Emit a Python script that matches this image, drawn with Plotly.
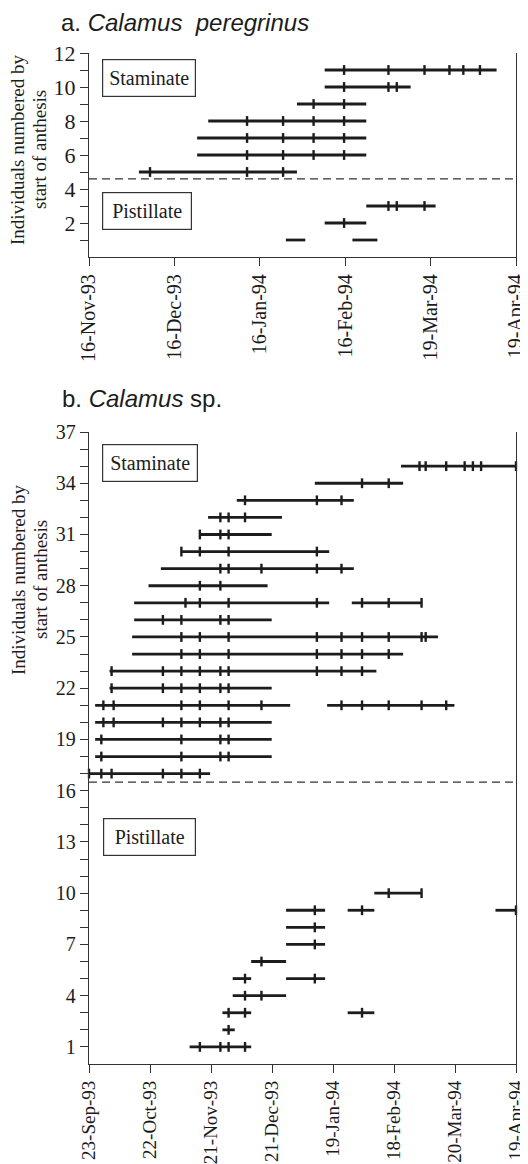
import plotly.graph_objects as go
import pandas as pd

# ---------------- Panel a: Calamus peregrinus ----------------
A_START, A_END = "1993-11-16", "1994-04-19"
A_TICK_LABELS = ["16-Nov-93", "16-Dec-93", "16-Jan-94", "16-Feb-94", "19-Mar-94", "19-Apr-94"]
A_ROWS = [11, 10, 9, 8, 7, 6, 5, 3, 2, 1]
A_SEGMENTS = [
    [("1994-02-09", "1994-04-12")],
    [("1994-02-09", "1994-03-12")],
    [("1994-01-30", "1994-02-24")],
    [("1993-12-29", "1994-02-24")],
    [("1993-12-25", "1994-02-24")],
    [("1993-12-25", "1994-02-24")],
    [("1993-12-04", "1994-01-30")],
    [("1994-02-24", "1994-03-21")],
    [("1994-02-09", "1994-02-24")],
    [("1994-01-26", "1994-02-02"), ("1994-02-19", "1994-02-28")],
]
A_CENSUS = [
    ["1994-02-16", "1994-03-04", "1994-03-17", "1994-03-26", "1994-03-31", "1994-04-06"],
    ["1994-02-16", "1994-03-04", "1994-03-07"],
    ["1994-02-05", "1994-02-16"],
    ["1994-01-12", "1994-01-25", "1994-02-05", "1994-02-16"],
    ["1994-01-12", "1994-01-25", "1994-02-05", "1994-02-16"],
    ["1994-01-12", "1994-01-25", "1994-02-05", "1994-02-16"],
    ["1993-12-08", "1994-01-12", "1994-01-25"],
    ["1994-03-04", "1994-03-07", "1994-03-17"],
    ["1994-02-16"],
    [],
]
A_DIVIDER = 4.6

# ---------------- Panel b: Calamus sp. ----------------
B_START, B_END = "1993-09-23", "1994-04-19"
B_TICK_LABELS = ["23-Sep-93", "22-Oct-93", "21-Nov-93", "21-Dec-93",
                 "19-Jan-94", "18-Feb-94", "20-Mar-94", "19-Apr-94"]
B_ROWS = [35, 34, 33, 32, 31, 30, 29, 28, 27, 26, 25, 24, 23, 22, 21, 20, 19, 18, 17,
          10, 9, 8, 7, 6, 5, 4, 3, 2, 1]
B_SEGMENTS = [
    [("1994-02-22", "1994-04-19")],
    [("1994-01-11", "1994-02-23")],
    [("1993-12-04", "1994-01-30")],
    [("1993-11-20", "1993-12-26")],
    [("1993-11-16", "1993-12-21")],
    [("1993-11-07", "1994-01-18")],
    [("1993-10-28", "1994-01-30")],
    [("1993-10-22", "1993-12-19")],
    [("1993-10-15", "1994-01-18"), ("1994-01-29", "1994-03-04")],
    [("1993-10-15", "1993-12-21")],
    [("1993-10-14", "1994-03-12")],
    [("1993-10-14", "1994-02-23")],
    [("1993-10-03", "1994-02-10")],
    [("1993-10-03", "1993-12-21")],
    [("1993-09-26", "1993-12-30"), ("1994-01-17", "1994-03-20")],
    [("1993-09-26", "1993-12-21")],
    [("1993-09-26", "1993-12-21")],
    [("1993-09-26", "1993-12-21")],
    [("1993-09-23", "1993-11-21")],
    # pistillate
    [("1994-02-09", "1994-03-04")],
    [("1993-12-28", "1994-01-16"), ("1994-01-27", "1994-02-09"), ("1994-04-09", "1994-04-19")],
    [("1993-12-28", "1994-01-16")],
    [("1993-12-28", "1994-01-16")],
    [("1993-12-11", "1993-12-28")],
    [("1993-12-02", "1993-12-11"), ("1993-12-28", "1994-01-16")],
    [("1993-12-02", "1993-12-28")],
    [("1993-11-27", "1993-12-11"), ("1994-01-27", "1994-02-09")],
    [("1993-11-27", "1993-12-03")],
    [("1993-11-11", "1993-12-11")],
]
B_CENSUS = [
    ["1994-03-03", "1994-03-06", "1994-03-16", "1994-03-25", "1994-03-29", "1994-04-02", "1994-04-19"],
    ["1994-02-03", "1994-02-16"],
    ["1993-12-08", "1994-01-12", "1994-01-24"],
    ["1993-11-26", "1993-11-30", "1993-12-08"],
    ["1993-11-16", "1993-11-26", "1993-11-30"],
    ["1993-11-07", "1993-11-16", "1993-11-30", "1994-01-12"],
    ["1993-11-26", "1993-11-30", "1993-12-16", "1994-01-12", "1994-01-24"],
    ["1993-11-16", "1993-11-26"],
    ["1993-11-09", "1993-11-16", "1993-11-30", "1994-01-12", "1994-02-03", "1994-02-16", "1994-03-04"],
    ["1993-10-29", "1993-11-07", "1993-11-26", "1993-11-30"],
    ["1993-11-07", "1993-11-16", "1993-11-30", "1994-01-12", "1994-01-24", "1994-02-03",
     "1994-02-16", "1994-03-04", "1994-03-06"],
    ["1993-11-07", "1993-11-16", "1993-11-30", "1994-01-12", "1994-01-24", "1994-02-03", "1994-02-16"],
    ["1993-10-04", "1993-10-29", "1993-11-07", "1993-11-16", "1993-11-26", "1993-11-30",
     "1994-01-12", "1994-01-24", "1994-02-03"],
    ["1993-10-04", "1993-10-29", "1993-11-07", "1993-11-16", "1993-11-26", "1993-11-30"],
    ["1993-09-30", "1993-10-05", "1993-11-07", "1993-11-16", "1993-11-30", "1993-12-16",
     "1994-01-24", "1994-02-03", "1994-02-16", "1994-03-04", "1994-03-16"],
    ["1993-09-30", "1993-10-05", "1993-10-29", "1993-11-07", "1993-11-16", "1993-11-26", "1993-11-30"],
    ["1993-09-29", "1993-11-07", "1993-11-26", "1993-11-30"],
    ["1993-09-29", "1993-11-07", "1993-11-26", "1993-11-30"],
    ["1993-09-23", "1993-09-29", "1993-10-04", "1993-10-29", "1993-11-07", "1993-11-16"],
    # pistillate
    ["1994-02-16", "1994-03-04"],
    ["1994-01-11", "1994-02-03", "1994-04-19"],
    ["1994-01-11"],
    ["1994-01-11"],
    ["1993-12-16"],
    ["1993-12-08", "1994-01-11"],
    ["1993-12-08", "1993-12-16"],
    ["1993-11-30", "1993-12-08", "1994-02-03"],
    ["1993-11-30"],
    ["1993-11-16", "1993-11-26", "1993-11-30", "1993-12-08"],
]
B_DIVIDER = 16.5

A_YTICKS = list(range(1, 13))
A_YLABELS = [str(v) if v % 2 == 0 else "" for v in A_YTICKS]
B_YTICKS = list(range(1, 38))
B_YLABELS = [str(v) if (v - 1) % 3 == 0 else "" for v in B_YTICKS]

INK = "#1c1c1c"
SERIF = "Liberation Serif, Times New Roman, serif"
SANS = "Liberation Sans, Arial, sans-serif"

# the page body has an 8px default margin; size the figure to fit the window
OFF = 8
W, H = 528 - OFF, 1164 - OFF
PLOT_L, PLOT_R, PLOT_T, PLOT_B = 89, 516, 53, 1064      # page pixels
ML, MR, MT, MB = PLOT_L - OFF, W - (PLOT_R - OFF), PLOT_T - OFF, H - (PLOT_B - OFF)
PH = H - MT - MB
PW = W - ML - MR


def py(pix):
    return (PLOT_B - pix) / PH


def build(rows, segs, census):
    lx, ly, mx, my = [], [], [], []
    for r, ss, cs in zip(rows, segs, census):
        for a, b in ss:
            lx += [a, b, None]
            ly += [r, r, None]
        for c in cs:
            mx.append(c)
            my.append(r)
    return lx, ly, mx, my


fig = go.Figure()
for rows, segs, cen, xa, ya in [(A_ROWS, A_SEGMENTS, A_CENSUS, "x", "y"),
                                (B_ROWS, B_SEGMENTS, B_CENSUS, "x2", "y2")]:
    lx, ly, mx, my = build(rows, segs, cen)
    fig.add_trace(go.Scatter(x=lx, y=ly, mode="lines", xaxis=xa, yaxis=ya,
                             line=dict(color=INK, width=2.8), showlegend=False,
                             hoverinfo="skip"))
    fig.add_trace(go.Scatter(x=mx, y=my, mode="markers", xaxis=xa, yaxis=ya,
                             marker=dict(symbol="line-ns", size=7,
                                         line=dict(color=INK, width=2.4)),
                             showlegend=False, cliponaxis=False))

a_ticks = pd.date_range(A_START, A_END, periods=len(A_TICK_LABELS))
b_ticks = pd.date_range(B_START, B_END, periods=len(B_TICK_LABELS))

axis_common = dict(showline=True, linecolor="#333", linewidth=1.4, ticks="outside",
                   ticklen=8, tickwidth=1.4, tickcolor="#333", showgrid=False,
                   zeroline=False, automargin=False)

fig.update_layout(
    template="none",
    width=W, height=H,
    margin=dict(l=ML, r=MR, t=MT, b=MB, autoexpand=False),
    paper_bgcolor="white", plot_bgcolor="white",
    xaxis=dict(domain=[0, 1], anchor="y", type="date", range=[A_START, A_END],
               tickvals=list(a_ticks), ticktext=A_TICK_LABELS, tickangle=-90,
               tickfont=dict(family=SERIF, size=20, color=INK), **axis_common),
    yaxis=dict(domain=[py(257), 1], anchor="x", range=[0, 12],
               tickvals=A_YTICKS, ticktext=A_YLABELS, mirror=True,
               tickfont=dict(family=SERIF, size=22, color=INK), **axis_common),
    xaxis2=dict(domain=[0, 1], anchor="y2", type="date", range=[B_START, B_END],
                tickvals=list(b_ticks), ticktext=B_TICK_LABELS, tickangle=-90,
                tickfont=dict(family=SERIF, size=19, color=INK), **axis_common),
    yaxis2=dict(domain=[0, py(432)], anchor="x2", range=[0, 37],
                tickvals=B_YTICKS, ticktext=B_YLABELS, mirror=True,
                tickfont=dict(family=SERIF, size=20, color=INK), **axis_common),
)

# divider lines
for ya, xd, val in [("y", "x domain", A_DIVIDER), ("y2", "x2 domain", B_DIVIDER)]:
    fig.add_shape(type="line", xref=xd, yref=ya, x0=0, x1=1, y0=val, y1=val,
                  line=dict(color="#333", width=1.3, dash="8px,5px"))

# boxed labels
def box(text, xr, yr, left_px, top_val, w):
    fig.add_annotation(text=text, xref=xr, yref=yr, x=(left_px - PLOT_L) / PW,
                       y=top_val, xanchor="left", yanchor="top", showarrow=False,
                       font=dict(family=SERIF, size=20, color=INK),
                       bordercolor="#333", borderwidth=1.2, borderpad=6,
                       width=w, height=24, bgcolor="white")

box("Staminate", "x domain", "y", 102, 11.65, 80)
box("Pistillate", "x domain", "y", 102, 3.82, 76)
box("Staminate", "x2 domain", "y2", 102, 36.32, 82)
box("Pistillate", "x2 domain", "y2", 103, 14.42, 79)

# panel titles
fig.add_annotation(text="a. <i>Calamus</i>&nbsp; <i>peregrinus</i>", xref="paper", yref="paper",
                   x=0, xshift=60 - PLOT_L, y=py(OFF), xanchor="left", yanchor="top",
                   showarrow=False, borderpad=0, font=dict(family=SANS, size=24, color=INK))
fig.add_annotation(text="b. <i>Calamus</i> sp.", xref="paper", yref="paper",
                   x=0, xshift=60 - PLOT_L, y=py(398), xanchor="left", yanchor="middle",
                   showarrow=False, font=dict(family=SANS, size=24, color=INK))

# y-axis titles
for cy in (150, 580):
    fig.add_annotation(text="Individuals numbered by", xref="paper", yref="paper",
                       x=0, xshift=18 - PLOT_L, y=py(cy), xanchor="center", yanchor="middle",
                       textangle=-90, showarrow=False,
                       font=dict(family=SERIF, size=19, color=INK))
    fig.add_annotation(text="start of anthesis", xref="paper", yref="paper",
                       x=0, xshift=40 - PLOT_L, y=py(cy), xanchor="center", yanchor="middle",
                       textangle=-90, showarrow=False,
                       font=dict(family=SERIF, size=19, color=INK))

fig.write_html("out.html")
